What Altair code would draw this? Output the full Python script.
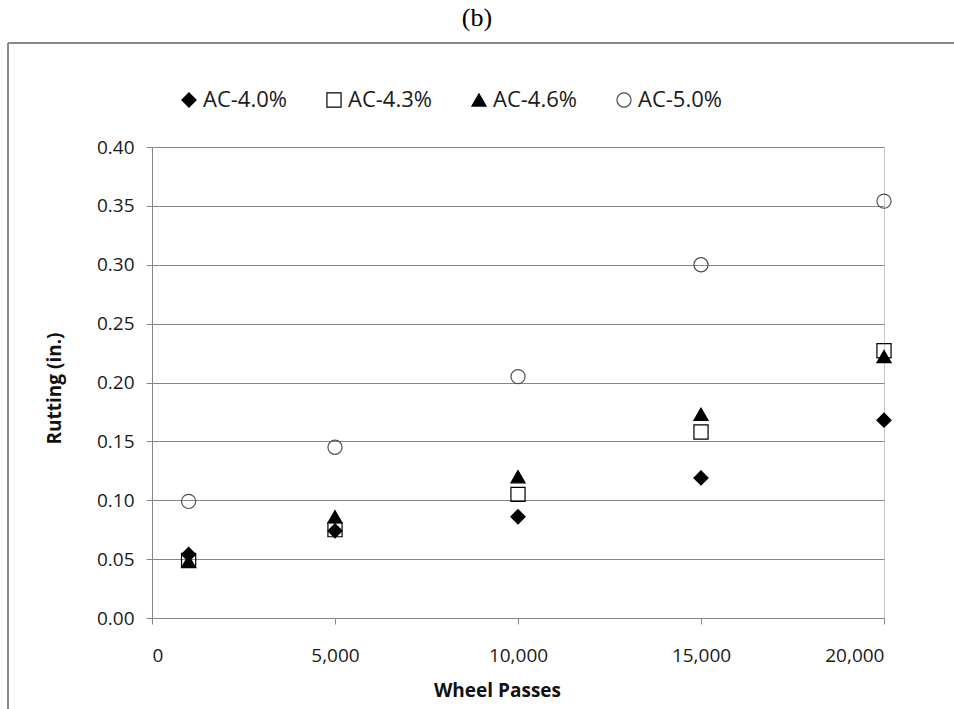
import altair as alt
import pandas as pd

# Rutting measured after each number of wheel passes, per asphalt content
passes = [1000, 5000, 10000, 15000, 20000]
ac_40 = [0.054, 0.074, 0.086, 0.119, 0.168]
ac_43 = [0.049, 0.075, 0.105, 0.158, 0.227]
ac_46 = [0.048, 0.086, 0.120, 0.173, 0.222]
ac_50 = [0.099, 0.145, 0.205, 0.300, 0.354]

series_names = ["AC-4.0%", "AC-4.3%", "AC-4.6%", "AC-5.0%"]
series_values = [ac_40, ac_43, ac_46, ac_50]

x_ticks = [0, 5000, 10000, 15000, 20000]
y_ticks = [0.0, 0.05, 0.10, 0.15, 0.20, 0.25, 0.30, 0.35, 0.40]

rows = []
for name, vals in zip(series_names, series_values):
    for p, v in zip(passes, vals):
        rows.append({"series": name, "passes": p, "rutting": v})
df = pd.DataFrame(rows)

FONT = "Open Sans"
GRID = "#868686"

# plot-area geometry (pixels)
W, H = 732, 471
PAD_L, PAD_T = 152, 147
PAD_R, PAD_B = 954 - PAD_L - W, 709 - PAD_T - H

points = alt.Chart(df).mark_point(size=200, opacity=1, strokeWidth=1.2).encode(
    x=alt.X(
        "passes:Q",
        scale=alt.Scale(domain=[0, 20000], nice=False),
        axis=alt.Axis(
            values=x_ticks, format=",.0f", grid=False,
            domainColor=GRID, tickColor=GRID, tickSize=6,
            labelFont=FONT, labelFontSize=19, labelColor="#1a1a1a", labelPadding=22,
            title="Wheel Passes", titleFont=FONT, titleFontSize=19,
            titleFontWeight="bold", titleColor="#111111", titlePadding=16,
            titleX=345, titleAnchor="middle",
        ),
    ),
    y=alt.Y(
        "rutting:Q",
        scale=alt.Scale(domain=[0, 0.4], nice=False),
        axis=alt.Axis(
            values=y_ticks, format=".2f", grid=True, gridColor=GRID, gridWidth=1,
            domainColor=GRID, tickColor=GRID, tickSize=6,
            labelFont=FONT, labelFontSize=19, labelColor="#1a1a1a", labelPadding=12,
            title="Rutting (in.)", titleFont=FONT, titleFontSize=19,
            titleFontWeight="bold", titleColor="#111111", titlePadding=32,
            titleY=241,
        ),
    ),
    shape=alt.Shape(
        "series:N",
        scale=alt.Scale(domain=series_names,
                        range=["diamond", "square", "triangle-up", "circle"]),
        legend=alt.Legend(
            orient="none", legendX=26, legendY=-58, direction="horizontal",
            columns=4, title=None, labelFont=FONT, labelFontSize=22,
            labelColor="#1a1a1a", labelOffset=3, columnPadding=36,
            symbolSize=200, symbolStrokeWidth=1.2, labelLimit=200,
        ),
    ),
    fill=alt.Fill(
        "series:N",
        scale=alt.Scale(domain=series_names,
                        range=["black", "transparent", "black", "transparent"]),
    ),
    stroke=alt.Stroke(
        "series:N",
        scale=alt.Scale(domain=series_names,
                        range=["black", "black", "black", "#505050"]),
    ),
    order=alt.Order("series:N"),
)

blank = alt.Data(values=[{}])

# outer frame: top and left edges
frame_top = alt.Chart(blank).mark_rule(color="#8a8a8a", strokeWidth=2).encode(
    x=alt.value(8 - PAD_L), x2=alt.value(954 - PAD_L), y=alt.value(43 - PAD_T)
)
frame_left = alt.Chart(blank).mark_rule(color="#8a8a8a", strokeWidth=2).encode(
    x=alt.value(8 - PAD_L), y=alt.value(43 - PAD_T), y2=alt.value(709 - PAD_T)
)

panel_label = alt.Chart(blank).mark_text(
    font="Liberation Serif", fontSize=26, color="black", align="center", baseline="middle"
).encode(
    x=alt.value(477 - PAD_L), y=alt.value(18 - PAD_T), text=alt.value("(b)")
)

chart = alt.layer(frame_top, frame_left, panel_label, points).properties(
    width=W, height=H,
    autosize=alt.AutoSizeParams(type="none"),
    padding={"left": PAD_L, "top": PAD_T, "right": PAD_R, "bottom": PAD_B},
    background="white",
).configure_view(stroke="#c8c8c8", strokeWidth=1)

chart.save("out.html", embed_options={"renderer": "svg", "actions": False})
